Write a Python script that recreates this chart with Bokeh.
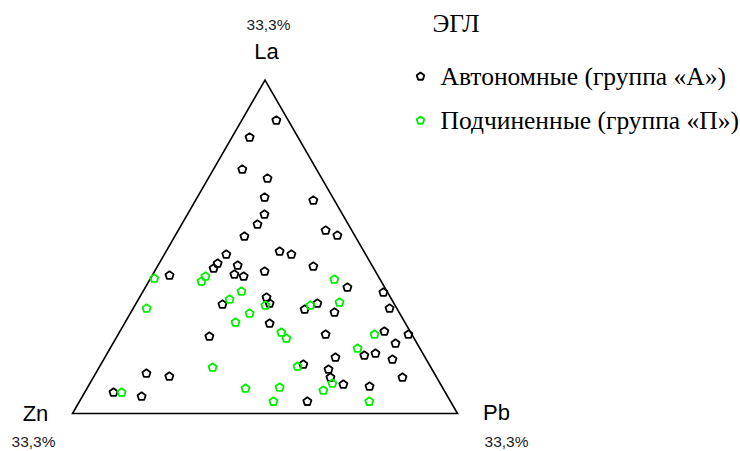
import numpy as np
from bokeh.plotting import figure
from bokeh.core.properties import value
from bokeh.embed import file_html
from bokeh.resources import INLINE

# ---- data: ternary composition, % (La, Pb, Zn) ----
# Group "A" (Автономные)
a_la = [87.9, 82.8, 73.2, 70.5, 64.8, 63.9, 59.7, 56.7, 53.1, 54.9, 53.4, 47.7, 48.6, 47.7,
        45.0, 43.5, 44.4, 44.1, 41.7, 41.1, 42.6, 41.4, 37.8, 36.3, 31.5, 32.7, 34.8, 33.0,
        31.2, 33.0, 30.3, 27.0, 23.7, 24.6, 23.7, 21.0, 16.8, 17.4, 18.0, 16.2, 23.1, 14.7,
        13.2, 10.8, 8.7, 8.1, 10.8, 3.6, 12.0, 11.1, 6.3, 5.1]
a_pb = [9.0, 4.6, 7.5, 15.4, 17.5, 30.6, 20.0, 19.7, 18.1, 38.3, 42.1, 16.1, 29.5, 33.0,
        15.2, 14.9, 20.7, 40.5, 21.2, 23.9, 28.6, 4.5, 52.5, 62.6, 66.6, 22.6, 33.0, 34.7,
        44.7, 47.1, 52.9, 37.7, 53.9, 68.7, 75.4, 73.4, 59.9, 67.1, 69.7, 75.0, 24.0, 52.6,
        59.9, 61.6, 66.0, 73.1, 80.3, 59.2, 13.2, 19.6, 7.5, 15.4]
a_zn = [round(100 - l - b, 1) for l, b in zip(a_la, a_pb)]

# Group "П" (Подчиненные)
p_la = [40.5, 41.1, 39.6, 36.6, 34.2, 31.5, 30.0, 27.3, 13.8, 6.3, 7.5, 40.2, 33.3, 32.4,
        32.4, 24.3, 22.5, 23.7, 19.5, 14.1, 9.0, 6.9, 7.8, 3.6, 3.6]
p_pb = [1.0, 14.0, 13.7, 25.6, 23.7, 3.5, 31.0, 28.7, 29.5, 9.6, 41.2, 47.9, 52.7, 45.6,
        33.9, 42.1, 44.3, 66.6, 64.3, 51.4, 63.0, 61.7, 49.9, 50.4, 75.3]
p_zn = [round(100 - l - b, 1) for l, b in zip(p_la, p_pb)]

vertex_names = ["La", "Zn", "Pb"]
vertex_pct = ["33,3%", "33,3%", "33,3%"]
legend_title = "ЭГЛ"
series_names = ["Автономные (группа «А»)", "Подчиненные (группа «П»)"]
series_colors = ["#000000", "#00ee00"]

# ---- geometry ----
W, H = 740, 451
S = 385.0                # pixels per unit triangle side
X0 = -72.0 / S
Y0 = -(H - 413.0) / S
SQ3 = np.sqrt(3) / 2


def tern(la, pb, zn):
    la, pb, zn = (np.asarray(v, dtype=float) for v in (la, pb, zn))
    s = la + pb + zn
    return (pb + la / 2) / s, la / s * SQ3


def pg(px, py):
    """page pixel -> data coordinates"""
    return X0 + px / S, Y0 + (H - py) / S


def pentagons(x, y, r_px=4.3):
    r = r_px / S
    th = np.pi / 2 + np.arange(5) * 2 * np.pi / 5
    xs = [list(xi + r * np.cos(th)) for xi in np.atleast_1d(x)]
    ys = [list(yi + r * np.sin(th)) for yi in np.atleast_1d(y)]
    return xs, ys


p = figure(width=W, height=H, x_range=(X0, X0 + W / S), y_range=(Y0, Y0 + H / S),
           x_axis_type=None, y_axis_type=None, output_backend="svg",
           toolbar_location=None, min_border=0)
p.grid.visible = False
p.outline_line_color = None
p.background_fill_color = "white"

# triangle
tx, ty = tern([0, 0, 100], [0, 100, 0], [100, 0, 0])
p.patch(list(tx), list(ty), fill_color=None, line_color="black", line_width=1.6,
        line_join="miter")

# points
for la, pb, zn, col in [(a_la, a_pb, a_zn, series_colors[0]),
                        (p_la, p_pb, p_zn, series_colors[1])]:
    x, y = tern(la, pb, zn)
    xs, ys = pentagons(x, y)
    p.patches(xs, ys, fill_color="white", fill_alpha=0, line_color=col, line_width=1.8)

# vertex labels
sans = value("Liberation Sans")
serif = value("Liberation Serif")
lab_pos = [(266, 51), (35, 413), (496, 412)]
pct_pos = [(268, 24), (33, 441), (506, 441)]
for name, (px, py) in zip(vertex_names, lab_pos):
    x, y = pg(px, py)
    p.text([x], [y], text=[name], text_font=sans, text_font_size="22px",
           text_align="center", text_baseline="middle", text_color="black")
for t, (px, py) in zip(vertex_pct, pct_pos):
    x, y = pg(px, py)
    p.text([x], [y], text=[t], text_font=sans, text_font_size="15.5px",
           text_align="center", text_baseline="middle", text_color="#222222")

# legend (drawn manually)
x, y = pg(432, 23)
p.text([x], [y], text=[legend_title], text_font=serif, text_font_size="25.5px",
       text_align="left", text_baseline="middle", text_color="black")
for i, (name, col) in enumerate(zip(series_names, series_colors)):
    mx, my = pg(420, 76 + 44 * i)
    xs, ys = pentagons(mx, my, 4.0)
    p.patches(xs, ys, fill_color=None, line_color=col, line_width=1.9)
    tx_, ty_ = pg(440, 76 + 44 * i)
    p.text([tx_], [ty_], text=[name], text_font=serif, text_font_size="25.5px",
           text_align="left", text_baseline="middle", text_color="black")

open("out.html", "w").write(file_html(p, INLINE))
